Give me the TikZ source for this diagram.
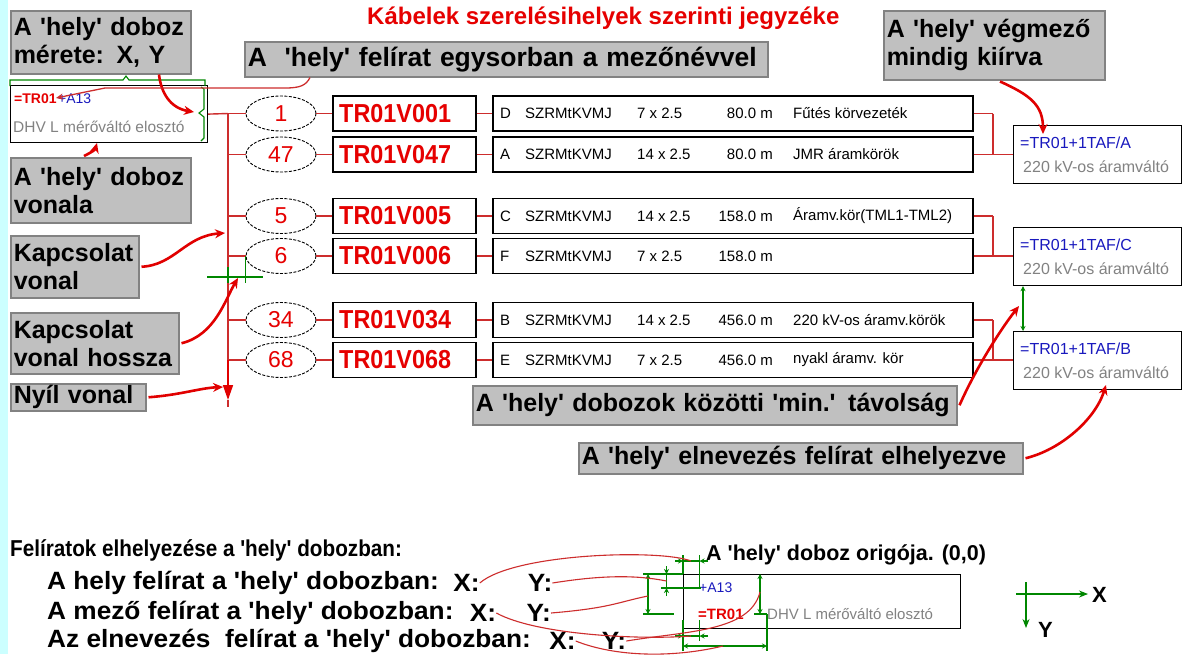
\documentclass[tikz,border=0pt]{standalone}
\usepackage{fontspec}
\setmainfont{Liberation Sans}[Ligatures=TeXOff]
\usetikzlibrary{arrows.meta,shapes.geometric,calc}
\definecolor{lblfill}{RGB}{192,192,192}
\definecolor{lbldraw}{RGB}{130,130,130}
\definecolor{cyanbg}{RGB}{204,255,255}
\definecolor{tred}{RGB}{230,0,0}
\definecolor{lred}{RGB}{205,45,45}
\definecolor{cred}{RGB}{225,0,0}
\definecolor{tblue}{RGB}{25,25,190}
\definecolor{tgray}{RGB}{130,130,130}
\definecolor{dgreen}{RGB}{0,135,0}
\newcommand{\myfs}[2]{\fontsize{#1}{#2}\selectfont}
\newcommand{\wide}[1]{\scalebox{1.05}[1]{#1}}
\begin{document}
\begin{tikzpicture}[x=1pt,y=-1pt,
  lbl/.style={draw=lbldraw, line width=1.5pt, fill=lblfill, anchor=north west, align=left, inner xsep=3pt, inner ysep=0pt, font=\bfseries\myfs{25}{28}},
  ell/.style={ellipse, draw=black, dash pattern=on 3pt off 1.5pt, line width=0.9pt, minimum width=70, minimum height=35, inner sep=0pt, text=tred, font=\myfs{23}{23}},
  cab/.style={draw=black, line width=1.2pt, minimum width=143, minimum height=35, inner sep=0pt},
  ctxt/.style={anchor=west, inner sep=0pt, text=tred, font=\bfseries\myfs{26}{26}},
  det/.style={draw=black, line width=1.2pt, minimum width=480, minimum height=35, inner sep=0pt},
  dtxt/.style={anchor=west, inner sep=0pt, font=\myfs{15}{15}, text=black},
  loc/.style={draw=black, line width=1.2pt, minimum width=168, minimum height=58, inner sep=0pt, anchor=north west},
  ltxt/.style={anchor=west, inner sep=0pt, font=\myfs{16}{16}},
  rline/.style={draw=lred, line width=1.4pt},
  rarr/.style={draw=cred, line width=2.6pt, -{Stealth[length=10pt,width=9pt]}},
  tarr/.style={draw=lred, line width=1.3pt, -{Stealth[length=7pt,width=6pt]}},
  tr/.style={draw=lred, line width=1.1pt},
  gd/.style={draw=dgreen, line width=1.1pt},
  gda/.style={gd, {Stealth[length=5pt,width=5pt]}-{Stealth[length=5pt,width=5pt]}},
  gin/.style={gd, -{Stealth[length=5pt,width=5pt]}},
  btxt/.style={anchor=west, inner sep=0pt, font=\bfseries\myfs{25}{25}, text=black}
]
\useasboundingbox (0,0) rectangle (1189,654);
\fill[white] (0,0) rectangle (1189,654);
\fill[cyanbg] (0,0) rectangle (8,654);

% title
\node[anchor=west, inner sep=0pt, text=tred, font=\bfseries\myfs{24}{24}] (title) at (367,18) {Kábelek szerelésihelyek szerinti jegyzéke};

% labels
\node[lbl, text width=174, minimum height=63] (L1) at (10,10) {A 'hely' doboz\\mérete: X, Y};
\node[lbl, text width=517, minimum height=35, font=\bfseries\myfs{26.5}{28}] (L2) at (244,41) {A\ \ 'hely' felírat egysorban a mezőnévvel};
\node[lbl, text width=215, minimum height=69] (L3) at (883,10) {A 'hely' végmező\\mindig kiírva};
\node[lbl, text width=174, minimum height=65] (L4) at (10,157) {A 'hely' doboz\\vonala};
\node[lbl, text width=122, minimum height=62] (L5) at (10,235) {Kapcsolat\\vonal};
\node[lbl, text width=162, minimum height=61] (L6) at (10,312) {Kapcsolat\\vonal hossza};
\node[lbl, text width=129, minimum height=27] (L7) at (10,383) {Nyíl vonal};
\node[lbl, text width=478, minimum height=39] (L8) at (472,385) {A 'hely' dobozok közötti 'min.' távolság};
\node[lbl, text width=438, minimum height=31] (L9) at (578,442) {A 'hely' elnevezés felírat elhelyezve};

% top-left hely box
\node[draw=black, line width=1.2pt, minimum width=197, minimum height=57, inner sep=0pt, anchor=north west] (hb) at (10,85) {};
\node[anchor=west, inner sep=0pt, text=tred, font=\bfseries\myfs{14}{14}] (hbm) at (14,99) {=TR01};
\node[anchor=west, inner sep=0pt, text=tblue, font=\myfs{14}{14}] (hbh) at (58,99) {+A13};
\node[anchor=west, inner sep=0pt, text=tgray, font=\myfs{15.5}{15.5}] (hbn) at (13,127) {DHV L mérőváltó elosztó};
% green braces
\draw[gd] (10,86) -- (10,80) -- (123,80) -- (126,76) -- (129,80) -- (205,80) -- (205,86);
\draw[gd] (201,87) -- (204,89) -- (204,109) -- (199,113) -- (204,117) -- (204,138) -- (201,141);

% rows
\foreach \i/\y/\n/\c/\l/\s/\m/\d in {
  1/113.5/1/TR01V001/D/7 x 2.5/80.0 m/Fűtés körvezeték,
  2/154.5/47/TR01V047/A/14 x 2.5/80.0 m/JMR áramkörök,
  3/216/5/TR01V005/C/14 x 2.5/158.0 m/Áramv.kör(TML1-TML2),
  4/256/6/TR01V006/F/7 x 2.5/158.0 m/{},
  5/320/34/TR01V034/B/14 x 2.5/456.0 m/220 kV-os áramv.körök,
  6/360/68/TR01V068/E/7 x 2.5/456.0 m/nyakl áramv. kör}{
  \coordinate (b\i) at (228,\y);
  \coordinate (r\i) at (993,\y);
  \node[ell] (e\i) at (281,\y) {\n};
  \node[cab] (c\i) at (404.5,\y) {};
  \node[ctxt] (ct\i) at (339,\y) {\scalebox{0.9}[1]{\c}};
  \node[det] (d\i) at (733,\y) {};
  \node[dtxt] (dl\i) at (500,\y) {\l};
  \node[dtxt] (dt\i) at (525,\y) {SZRMtKVMJ};
  \node[dtxt] (ds\i) at (637,\y) {\s};
  \node[dtxt, anchor=east] (dm\i) at (773,\y) {\m};
  \node[dtxt] (dd\i) at (793,\y) {\d};
  \draw[rline] (b\i) -- (e\i.west);
  \draw[rline] (e\i.east) -- (c\i.west);
  \draw[rline] (c\i.east) -- (d\i.west);
  \draw[rline] (d\i.east) -- (r\i);
}

% bus
\coordinate (barr) at (228,400);
\coordinate (bend) at (228,407);
\draw[rline] (hb.east) -- (b1);
\draw[rline] (b1) -- (b6);
\draw[draw=cred, line width=1.6pt, -{Triangle[length=15pt,width=10pt]}] (b6) -- (barr);
\draw[rline] (barr) -- (bend);

% location boxes
\node[loc] (lA) at (1013,125) {};
\node[loc] (lC) at (1013,227) {};
\node[loc] (lB) at (1013,331) {};
\node[ltxt, text=tblue] (lAt) at ($(lA.north west)+(7,18)$) {=TR01+1TAF/A};
\node[ltxt, text=tgray] (lAs) at ($(lA.north west)+(10,42)$) {220 kV-os áramváltó};
\node[ltxt, text=tblue] (lCt) at ($(lC.north west)+(7,18)$) {=TR01+1TAF/C};
\node[ltxt, text=tgray] (lCs) at ($(lC.north west)+(10,42)$) {220 kV-os áramváltó};
\node[ltxt, text=tblue] (lBt) at ($(lB.north west)+(7,18)$) {=TR01+1TAF/B};
\node[ltxt, text=tgray] (lBs) at ($(lB.north west)+(10,42)$) {220 kV-os áramváltó};

\draw[rline] (r1) -- (r2) -- (lA.west |- r2);
\draw[rline] (r3) -- (r4) -- (lC.west |- r4);
\draw[rline] (r5) -- (r6) -- (lB.west |- r6);

% green distance arrow
\draw[gda] ($(lC.south west)+(10,0)$) -- ($(lB.north west)+(10,0)$);
% green connection length marks
\draw[gd] (207,277) -- (263,277);
\draw[gd] (228,267) -- (228,283);
\draw[gd] (e4.west) -- ++(0,27);

% red annotation arrows
\draw[rarr] ($(L1.south west)+(149,0)$) .. controls +(2,18) and (170,108) .. (194,112);
\draw[tarr] ($(L2.south west)+(66,0)$) .. controls +(-4,8) and (300,88) .. (285,88) -- (105,88) -- (56,98);
\draw[rarr] ($(L4.north west)+(74,-1)$) .. controls +(8,-4) and (95,150) .. (97,143);
\draw[rarr] ($(L5.east)+(2,0)$) .. controls (175,265) and (185,236) .. (225,233);
\draw[rarr] ($(L6.east)+(2,0)$) .. controls (215,335) and (225,300) .. (238,278);
\draw[rarr] ($(L7.east)+(2,0)$) .. controls (180,395) and (200,388) .. (223,387);
\draw[rarr] ($(L3.south west)+(117,1)$) .. controls (1030,95) and (1043,105) .. (1043,134);
\draw[rarr] ($(L8.east)+(2,0)$) .. controls (975,370) and (1000,330) .. (1019,306);
\draw[rarr] ($(L9.east)+(2,0)$) .. controls (1060,450) and (1095,420) .. (1106,385);

% bottom texts
\node[btxt, font=\bfseries\myfs{23}{23}] (hdr) at (10,550) {\scalebox{0.9}[1]{Felíratok elhelyezése a 'hely' dobozban:}};
\node[btxt] (t1) at (47,583) {\wide{A hely felírat a 'hely' dobozban:}};
\node[btxt] (t1x) at ($(t1.east)+(14,0)$) {\wide{X:}};
\node[btxt] (t1y) at ($(t1x.east)+(48,0)$) {\wide{Y:}};
\node[btxt] (t2) at (47,613) {\wide{A mező felírat a 'hely' dobozban:}};
\node[btxt] (t2x) at ($(t2.east)+(16,0)$) {\wide{X:}};
\node[btxt] (t2y) at ($(t2x.east)+(30,0)$) {\wide{Y:}};
\node[btxt] (t3) at (47,641) {\wide{Az elnevezés\ \ felírat a 'hely' dobozban:}};
\node[btxt] (t3x) at ($(t3.east)+(18,0)$) {\wide{X:}};
\node[btxt] (t3y) at ($(t3x.east)+(26,0)$) {\wide{Y:}};
\node[btxt, font=\bfseries\myfs{21.5}{21.5}] (orig) at (706,555) {A 'hely' doboz origója. (0,0)};

% bottom box with dimensions
\begin{scope}[shift={(683,574)}]
\node[draw=black, line width=1pt, anchor=north west, minimum width=277, minimum height=54, inner sep=0pt] (ob) at (0,0) {};
\node[anchor=west, inner sep=0pt, text=tblue, font=\myfs{14}{14}] (obh) at (16,14) {+A13};
\node[anchor=west, inner sep=0pt, text=tred, font=\bfseries\myfs{15}{15}] (obm) at (15,40) {=TR01};
\node[anchor=west, inner sep=0pt, text=tgray, font=\myfs{15}{15}] (obn) at (84,40) {DHV L mérőváltó elosztó};
% X of hely label (top)
\draw[gd] (0,-19) -- (0,0);
\draw[gd] (16.5,-19) -- (16.5,14);
\draw[gd] (0,-13) -- (16.5,-13);
\draw[gin] (-8,-13) -- (0,-13);
\draw[gin] (25,-13) -- (16.5,-13);
% Y of hely label
\draw[gd] (-40,0) -- (0,0);
\draw[gd] (-22,14) -- (18,14);
\draw[gd] (-16.5,0) -- (-16.5,14);
\draw[gin] (-16.5,-8) -- (-16.5,0);
\draw[gin] (-16.5,22) -- (-16.5,14);
% Y of field label
\draw[gda] (-35,0) -- (-35,40);
\draw[gd] (-40,40) -- (-9,40);
% X of field label (bottom)
\draw[gd] (0,46) -- (0,67);
\draw[gd] (16.5,46) -- (16.5,67);
\draw[gd] (0,62) -- (16.5,62);
\draw[gin] (-8,62) -- (0,62);
\draw[gin] (25,62) -- (16.5,62);
% Y of name label
\draw[gda] (77,0) -- (77,40);
\draw[gd] (71,40) -- (84,40);
% X of name label
\draw[gd] (84,40) -- (84,77);
\draw[gd] (0,67) -- (0,77);
\draw[gda] (0,72) -- (84,72);
\coordinate (pXh) at (8,-13);
\coordinate (pYh) at (-16.5,7);
\coordinate (pYm) at (-35,22);
\coordinate (pXm) at (8,62);
\coordinate (pXe) at (40,72);
\coordinate (pYe) at (77,18);
\end{scope}

% red leader curves (bottom)
\draw[tr] (t1x.east) .. controls +(35,-30) and +(-30,-12) .. (pXh);
\draw[tr] (t1y.east) .. controls +(50,-8) and +(-30,-6) .. (pYh);
\draw[tr] (t2x.east) .. controls +(40,22) and +(-50,4) .. (pXm);
\draw[tr] (t2y.east) .. controls +(60,-5) and +(-30,6) .. (pYm);
\draw[tr] (t3x.east) .. controls +(40,16) and +(-50,12) .. (pXe);
\draw[tr] (t3y.east) .. controls +(60,-10) and +(-10,40) .. (pYe);

% axes
\draw[gd, -{Stealth[length=9pt,width=7pt]}] (1016,594) -- (1088,594);
\draw[gd, -{Stealth[length=9pt,width=7pt]}] (1026,582) -- (1026,628);
\node[anchor=west, inner sep=0pt, font=\bfseries\myfs{22}{22}] (axX) at (1092,595) {X};
\node[anchor=west, inner sep=0pt, font=\bfseries\myfs{22}{22}] (axY) at (1038,630) {Y};
\end{tikzpicture}
\end{document}
